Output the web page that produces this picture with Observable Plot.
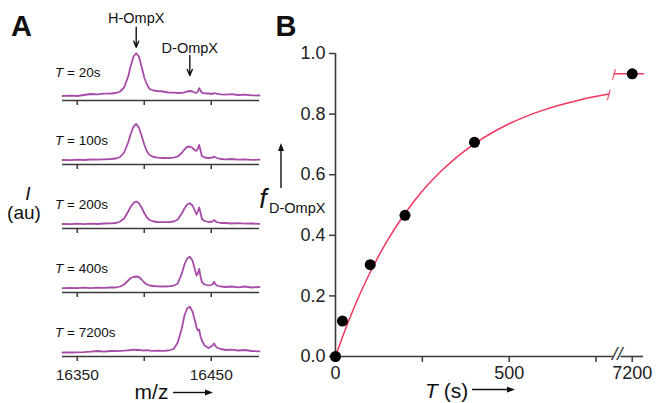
<!DOCTYPE html>
<html><head><meta charset="utf-8">
<script src="https://cdn.jsdelivr.net/npm/d3@7"></script>
<script src="https://cdn.jsdelivr.net/npm/@observablehq/plot@0.6"></script>
<style>
body{margin:0;background:#fff;}
#root{position:relative;width:659px;height:403px;overflow:hidden;font-family:"Liberation Sans",Arial,Helvetica,sans-serif;color:#111;}
.lbl{position:absolute;white-space:nowrap;line-height:1;}
.chart{position:absolute;}
</style></head><body><div id="root"></div>
<script>
// ---------- Panel A data ----------
const mz = [16339,16345,16350,16355,16360,16365,16370,16375,16379,16382,16385,16388,16390,16392,16394,16396,16398,16400,16402,16404,16407,16410,16414,16418,16422,16425,16428,16430,16432,16434,16436,16438,16439,16440,16441,16442,16443,16445,16448,16451,16452,16454,16457,16461,16465,16470,16475,16480,16486];
const I20   = [0.5,0.8,0.5,1.5,2.5,2.2,2.8,3.0,3.5,5,9,20,31,40,43.3,40,30,19,12,7.5,6,5.5,5,4,3.8,3.5,3.6,4.2,5,5.5,5,3.8,3.6,5,8.3,6,3.8,3.2,3,2.5,3.5,2.8,2.2,1.8,2.4,1.5,1.8,1.2,1.0];
const I100  = [0.5,0.3,0.8,0.5,1.0,0.8,1.2,1.5,2.0,3.5,8,18,27,34,36.6,33,25,16,9,5.5,3.5,2.8,2.5,2.3,2.8,4,7.5,11,13.5,14,12.5,10,9.6,12,15.6,10,4.5,3,2.5,3,4,2.5,1.5,1.2,1.5,0.8,1.2,0.6,0.8];
const I200  = [0.5,0.3,0.8,0.3,0.8,0.5,1.0,1.2,1.5,3,6,13,18,21.5,23,21.5,17,11.5,7,4.5,3,2.5,2.3,2.3,3,5,11,16,20,21.3,19,13,10,13,17,12,5.5,3.5,2.5,3,4.5,2.5,1.5,1.5,1.0,1.3,0.8,1.0,0.6];
const I400  = [0.3,0.6,0.3,0.8,0.4,0.8,0.6,1.0,1.0,2,4,8,10.5,11.5,12,11.5,9,6,4,3,2.5,2.2,2.0,2.2,2.8,5,15,24,30,31.7,28,18,13,15,19.7,12,6.5,4,3,4,6.7,3,2,1.5,2,1.2,2,1.0,1.5];
const I7200 = [0,0,0.2,0.3,0.8,1.5,0.8,1.5,1.3,1.6,1.8,2.2,2.5,2.8,2.5,2.6,2.2,2.0,2.4,1.8,1.6,1.8,1.7,2.0,3.5,10,24,37,44,45.7,41,31,25,22,23,16,12,7,4.5,7,9,5,3.5,2.5,2.8,2.0,2.5,1.5,1.2];
const spectra = [I20, I100, I200, I400, I7200];
const timeLabels = ["20s", "100s", "200s", "400s", "7200s"];
const peakNames = ["H-OmpX", "D-OmpX"];
const peakMz = [16394, 16434];
const mzTicks = [16350, 16400, 16450];
const mzTickLabels = ["16350", "", "16450"];

// ---------- Panel B data ----------
const kinT = [0, 20, 100, 200, 400, 7200];
const kinF = [0, 0.117, 0.303, 0.466, 0.707, 0.933];
const fitT = [0, 25, 50, 75, 100, 150, 200, 250, 300, 350, 400, 500, 600, 700, 787];
const fitF = [0, 0.079, 0.152, 0.218, 0.278, 0.384, 0.472, 0.546, 0.607, 0.659, 0.702, 0.768, 0.814, 0.846, 0.866];
const lateT = [7105, 7260];
const lateF = [0.933, 0.933];
const tTicks = [0, 250, 500, 750, 7200];
const tTickLabels = ["0", "", "500", "", "7200"];
const fTicks = [0, 0.2, 0.4, 0.6, 0.8, 1.0];

const PURPLE = "#a64ca8", RED = "#f2365f", AX = "#3a3a3a";
const FONT = '"Liberation Sans", Arial, Helvetica, sans-serif';
const root = document.getElementById("root");

function put(html, x, y, size, anchor = "middle", extra = "") {
  const d = document.createElement("div");
  d.className = "lbl";
  d.innerHTML = html;
  const tx = anchor === "start" ? "0" : anchor === "end" ? "-100%" : "-50%";
  d.style.cssText = `left:${x}px;top:${y}px;font-size:${size}px;transform:translate(${tx},-50%);${extra}`;
  root.appendChild(d);
}

// ---------- Panel A ----------
const axisYs = [100, 164, 228, 292, 356];
spectra.forEach((I, i) => {
  const rows = mz.map((m, j) => ({mz: m, I: I[j]}));
  const first = i === 0, last = i === spectra.length - 1;
  const mt = first ? 48 : 0, mb = last ? 30 : 8;
  const marks = [
    Plot.ruleY([-4], {stroke: AX, strokeWidth: 1.6}),
    Plot.axisX({ticks: mzTicks, tickSize: 5, tickPadding: 7, strokeWidth: 1.5, stroke: AX, label: null,
      tickFormat: d => last ? mzTickLabels[mzTicks.indexOf(d)] : "", fontSize: 15.5}),
    Plot.line(rows, {x: "mz", y: "I", stroke: PURPLE, strokeWidth: 1.8, strokeLinejoin: "round"})
  ];
  if (first) {
    const peaks = peakNames.map((n, k) => ({name: n, mz: peakMz[k]}));
    marks.push(
      Plot.text(peaks, {x: "mz", y: (d, k) => k === 0 ? 78 : 47.7, text: "name", fontSize: 14.5, fill: "#111", lineAnchor: "middle"}),
      Plot.arrow(peaks, {x1: "mz", x2: "mz", y1: (d, k) => k === 0 ? 69.3 : 41, y2: (d, k) => k === 0 ? 49.3 : 21,
        stroke: "#111", strokeWidth: 1.4, headLength: 7, headAngle: 45})
    );
  }
  const svg = Plot.plot({
    width: 265, height: mt + 52 + mb,
    marginLeft: 62, marginRight: 6, marginTop: mt, marginBottom: mb,
    x: {domain: [16339, 16486], label: null},
    y: {domain: [-4, 48], axis: null, label: null},
    style: {background: "transparent", fontFamily: FONT, fontSize: "15.5px", color: "#222", overflow: "visible"},
    marks
  });
  svg.classList.add("chart");
  svg.style.left = "0px";
  svg.style.top = (axisYs[i] - 52 - mt) + "px";
  root.appendChild(svg);
  put(`<i>T</i> = ${timeLabels[i]}`, 55, first ? 73 : axisYs[i] - 22.7, 13.5, "start");
});

// ---------- Panel B ----------
const pts = kinT.map((t, i) => ({T: t, f: kinF[i]}));
const fit = fitT.map((t, i) => ({T: t, f: fitF[i]}));
const late = lateT.map((t, i) => ({T: t, f: lateF[i]}));
const breaks = [fit[fit.length - 1], late[0]];
const svgB = Plot.plot({
  width: 389, height: 403,
  marginLeft: 65, marginRight: 16, marginTop: 53, marginBottom: 47,
  x: {type: "linear", domain: [0, 800, 7100, 7260], range: [65, 342.9, 342.9, 373], label: null},
  y: {domain: [0, 1], label: null},
  style: {background: "transparent", fontFamily: FONT, fontSize: "18px", color: "#222", overflow: "visible"},
  marks: [
    Plot.ruleX([0], {y1: 0, y2: 1, stroke: AX, strokeWidth: 1.6}),
    Plot.ruleY([0], {x1: 0, x2: 800, stroke: AX, strokeWidth: 1.6}),
    Plot.ruleY([0], {x1: 7140, x2: 7260, stroke: AX, strokeWidth: 1.6}),
    Plot.text(["//"], {x: 7120, y: 0, text: d => d, fontSize: 19, fontStyle: "italic", fill: AX, lineAnchor: "middle", dy: -3}),
    Plot.axisY({ticks: fTicks, tickFormat: d3.format(".1f"), tickSize: 6, tickPadding: 4, strokeWidth: 1.5, stroke: AX, label: null}),
    Plot.axisX({ticks: tTicks, tickFormat: d => tTickLabels[tTicks.indexOf(d)], tickSize: 6, tickPadding: 4, strokeWidth: 1.5, stroke: AX, label: null}),
    Plot.line(fit, {x: "T", y: "f", stroke: RED, strokeWidth: 1.5, curve: "monotone-x"}),
    Plot.line(late, {x: "T", y: "f", stroke: RED, strokeWidth: 1.5}),
    Plot.text(breaks, {x: "T", y: "f", text: () => "|", rotate: 15, fontSize: 12, fill: RED, lineAnchor: "middle"}),
    Plot.dot(pts, {x: "T", y: "f", r: 5.5, fill: "#000"})
  ]
});
svgB.classList.add("chart");
svgB.style.left = "270px";
svgB.style.top = "0px";
root.appendChild(svgB);

// ---------- Text labels ----------
put("A", 21.5, 25.5, 29, "middle", "font-weight:bold;");
put("B", 286, 26, 29, "middle", "font-weight:bold;");
put("<i>I</i>", 28, 193, 19);
put("(au)", 24, 212, 19);
put("m/z", 151.5, 391, 21);
put("<i>T</i> (s)", 425, 390, 21, "start");
put("<i>f</i>", 263, 199, 27);
put("D-OmpX", 269, 207.5, 14.5, "start");

// ---------- Arrows (decoration) ----------
const NS = "http://www.w3.org/2000/svg";
const ov = document.createElementNS(NS, "svg");
ov.setAttribute("width", 659); ov.setAttribute("height", 403);
ov.style.cssText = "position:absolute;left:0;top:0;pointer-events:none;";
function arrow(x1, y1, x2, y2) {
  const a = Math.atan2(y2 - y1, x2 - x1), L = 8, W = 3;
  const bx = x2 - L * Math.cos(a), by = y2 - L * Math.sin(a);
  const l = document.createElementNS(NS, "line");
  l.setAttribute("x1", x1); l.setAttribute("y1", y1); l.setAttribute("x2", bx); l.setAttribute("y2", by);
  l.setAttribute("stroke", "#111"); l.setAttribute("stroke-width", 1.4);
  ov.appendChild(l);
  const p = document.createElementNS(NS, "polygon");
  const px = -Math.sin(a) * W, py = Math.cos(a) * W;
  p.setAttribute("points", `${x2},${y2} ${bx + px},${by + py} ${bx - px},${by - py}`);
  p.setAttribute("fill", "#111");
  ov.appendChild(p);
}
arrow(173, 392.5, 213, 392.5);
arrow(472, 389.5, 515, 389.5);
arrow(281, 188, 281, 143);
root.appendChild(ov);
</script>
</body></html>
